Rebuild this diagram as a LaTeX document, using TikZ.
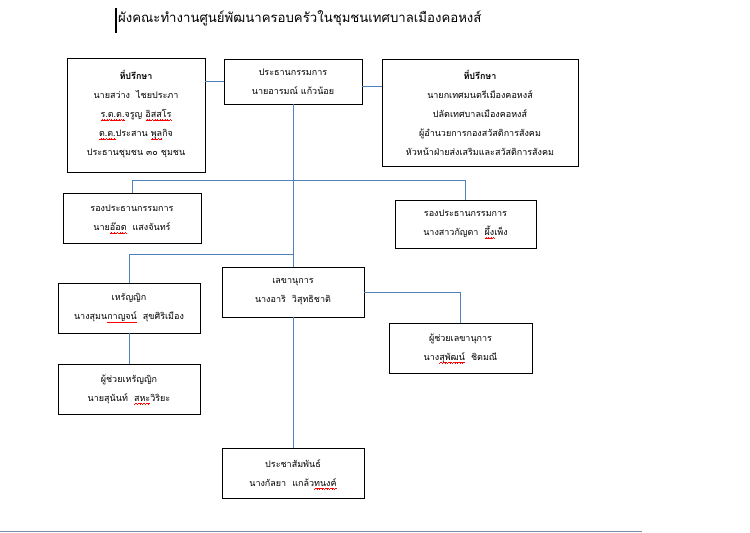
\documentclass[tikz,border=0pt]{standalone}
\usepackage{fontspec}
\newfontfamily\thai[Script=Thai]{Loma}
\definecolor{linkblue}{RGB}{79,129,189}
\definecolor{rulegray}{RGB}{120,140,170}
\newcommand\wavepiece{\hbox{\rule{0.6pt}{0.5pt}\raisebox{0.45pt}{\rule{0.6pt}{0.5pt}}\raisebox{0.9pt}{\rule{0.6pt}{0.5pt}}\raisebox{0.45pt}{\rule{0.6pt}{0.5pt}}}}
\newcommand\spellmark[1]{\setbox0=\hbox{#1}\rlap{\raisebox{-3pt}[0pt][0pt]{\color{red}\hbox to \wd0{\xleaders\wavepiece\hfil}}}\box0}
\tikzset{
  box/.style={draw=black, line width=0.8pt, inner sep=0pt, align=center, fill=white,
    font=\thai\fontsize{9}{19}\selectfont},
  conn/.style={draw=linkblue, line width=0.9pt},
  titletext/.style={anchor=west, inner sep=0pt, font=\thai\fontsize{13.2}{15}\selectfont}
}
\begin{document}
\begin{tikzpicture}[x=1pt,y=-1pt]
\useasboundingbox (0,0) rectangle (750,533);
% title and cursor
\node[titletext] (title) at (118,18) {ผังคณะทำงานศูนย์พัฒนาครอบครัวในชุมชนเทศบาลเมืองคอหงส์};
\draw[line width=1.5pt] (116,8) -- (116,33);
\coordinate (h1) at (293,180);
\coordinate (h2) at (293,254);
% boxes
\node[box, minimum width=138, minimum height=114] (adv1) at (136,115)
  {{\bfseries ที่ปรึกษา}\\นายสว่าง\ \ ไชยประภา\\\spellmark{ร.ต.ต.}จรูญ \spellmark{อิสสโร}\\\spellmark{ด.ต.}ประสาน \spellmark{พุล}กิจ\\ประธานชุมชน ๓๐ ชุมชน\\[-15pt]\mbox{}};
\node[box, minimum width=138, minimum height=45] (chair) at (293,81.5)
  {ประธานกรรมการ\\นายอารมณ์ แก้วน้อย};
\node[box, minimum width=196, minimum height=107] (adv2) at (480,112.5)
  {{\bfseries ที่ปรึกษา}\\นายกเทศมนตรีเมืองคอหงส์\\ปลัดเทศบาลเมืองคอหงส์\\ผู้อำนวยการกองสวัสดิการสังคม\\หัวหน้าฝ่ายส่งเสริมและสวัสดิการสังคม};
\node[box, minimum width=138, minimum height=50] (vp1) at (132,218)
  {รองประธานกรรมการ\\นาย\spellmark{อ๊อด}\ \ แสงจันทร์};
\node[box, minimum width=141, minimum height=48] (vp2) at (465.5,224)
  {รองประธานกรรมการ\\นางสาวกัญดา\ \ \spellmark{ผึ้ง}เพ็ง};
\node[box, minimum width=142, minimum height=50] (tre) at (129,308)
  {เหรัญญิก\\นางสุมน\spellmark{กาญจน์}\ \ สุขศิริเมือง};
\node[box, minimum width=142, minimum height=50] (sec) at (293,292)
  {เลขานุการ\\นางอาริ\ \ วิสุทธิชาติ};
\node[box, minimum width=142, minimum height=50] (atre) at (129,389)
  {ผู้ช่วยเหรัญญิก\\นายสุนันท์\ \ \spellmark{สหะ}วิริยะ};
\node[box, minimum width=143, minimum height=50] (asec) at (460.5,348)
  {ผู้ช่วยเลขานุการ\\นาง\spellmark{สุพัฒน์}\ \ ชิตมณี};
\node[box, minimum width=142, minimum height=50] (pr) at (293,473)
  {ประชาสัมพันธ์\\นางกัลยา\ \ แกล้ว\spellmark{ทนงค์}};
% connectors
\draw[conn] (adv1.east |- chair.west) -- (chair.west);
\draw[conn] ([yshift=-5pt]chair.east) -- ([yshift=-5pt]chair.east -| adv2.west);
\draw[conn] (chair.south) -- (sec.north);
\draw[conn] (vp1.north) -- (vp1.north |- h1) -- (vp2.north |- h1) -- (vp2.north);
\draw[conn] (h2) -- (tre.north |- h2) -- (tre.north);
\draw[conn] (tre.south) -- (atre.north);
\draw[conn] (sec.east) -- (sec.east -| asec.north) -- (asec.north);
\draw[conn] (sec.south) -- (pr.north);
% bottom rule
\draw[rulegray, line width=1pt] (0,531) -- (642,531);
\end{tikzpicture}
\end{document}
